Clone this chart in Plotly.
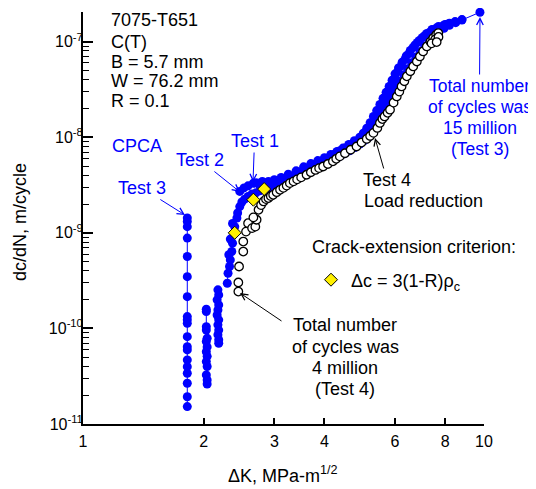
import plotly.graph_objects as go

# ---------------- data ----------------
# Test 3 threshold columns (CPCA)
t3a_dk = [1.82, 1.82, 1.82, 1.82, 1.82, 1.82, 1.82, 1.82, 1.82, 1.82, 1.82, 1.82, 1.82, 1.82, 1.82, 1.82, 1.82, 1.82, 1.82]
t3a_dadn = [1.43e-9, 1.31e-9, 1.16e-9, 8.8e-10, 5.65e-10, 3.48e-10, 2.15e-10, 1.33e-10, 1.23e-10, 1.13e-10,
            8.2e-11, 6.44e-11, 5.96e-11, 4.68e-11, 3.98e-11, 3.40e-11, 2.67e-11, 1.93e-11, 1.52e-11]
t3b_dk = [2.03, 2.03, 2.03, 2.03, 2.04, 2.03, 2.04, 2.03, 2.04, 2.03, 2.04, 2.03, 2.04, 2.04]
t3b_dadn = [1.59e-10, 1.50e-10, 1.04e-10, 9.6e-11, 7.9e-11, 7.3e-11, 6.4e-11, 5.7e-11, 5.1e-11, 4.5e-11,
            4.0e-11, 3.26e-11, 2.89e-11, 2.62e-11]
t3c_dk = [2.17, 2.18, 2.16, 2.18, 2.17, 2.16, 2.18, 2.17, 2.18, 2.17, 2.18, 2.18]
t3c_dadn = [2.53e-10, 2.24e-10, 1.99e-10, 1.76e-10, 1.56e-10, 1.38e-10, 1.23e-10, 1.09e-10, 9.6e-11, 8.6e-11,
            7.6e-11, 7.0e-11]
# Test 3 main curve
t3_dk = [2.29, 2.30, 2.32, 2.33, 2.31, 2.35, 2.36, 2.33, 2.38, 2.39, 2.36, 2.42, 2.43, 2.46, 2.49, 2.53,
         2.58, 2.64, 2.70, 2.76, 2.82, 2.88, 2.94, 3.00, 3.07, 3.14, 3.22, 3.30, 3.38, 3.47, 3.56, 3.66,
         3.76, 3.87, 3.98, 4.10, 4.22, 4.35, 4.48, 4.62, 4.76, 4.90, 5.03, 5.15, 5.25, 5.34, 5.43, 5.52,
         5.62, 5.72, 5.83, 5.94, 6.06, 6.18, 6.31, 6.45, 6.60, 6.76, 6.93, 7.11, 7.30, 7.50, 7.72, 7.95,
         8.20, 8.50, 8.81, 9.77]
t3_dadn = [2.97e-10, 3.78e-10, 4.44e-10, 5.21e-10, 5.9e-10, 6.37e-10, 7.8e-10, 8.6e-10, 9.9e-10, 1.16e-9,
           1.25e-9, 1.43e-9, 1.61e-9, 1.88e-9, 2.10e-9, 2.25e-9, 2.40e-9, 2.55e-9, 2.62e-9, 2.75e-9,
           2.85e-9, 2.92e-9, 3.0e-9, 3.1e-9, 3.2e-9, 3.35e-9, 3.45e-9, 3.6e-9, 3.75e-9, 3.9e-9, 4.1e-9,
           4.35e-9, 4.6e-9, 4.85e-9, 5.15e-9, 5.45e-9, 5.8e-9, 6.25e-9, 6.7e-9, 7.2e-9, 7.8e-9, 8.5e-9,
           9.2e-9, 1.0e-8, 1.1e-8, 1.22e-8, 1.38e-8, 1.58e-8, 1.8e-8, 2.1e-8, 2.45e-8, 2.85e-8, 3.3e-8,
           3.85e-8, 4.5e-8, 5.2e-8, 6.0e-8, 6.9e-8, 7.9e-8, 9.0e-8, 1.02e-7, 1.14e-7, 1.26e-7, 1.38e-7,
           1.48e-7, 1.58e-7, 1.68e-7, 2.03e-7]
# Test 1 (CPCA)
t1_dk = [2.66, 2.75, 2.85, 2.93, 3.00, 3.10, 3.20, 3.28, 3.38, 3.48, 3.58, 3.68, 3.80, 3.90, 4.00, 4.13,
         4.25, 4.37, 4.50, 4.63, 4.77, 4.91, 5.02, 5.14, 5.23, 5.32, 5.41, 5.50, 5.60, 5.69, 5.80, 5.90,
         6.00, 6.10, 6.22, 6.35, 6.50, 6.65, 6.82, 7.01, 7.20, 7.42, 7.70, 7.99, 8.20, 8.47, 8.81]
t1_dadn = [3.30e-9, 3.2e-9, 3.1e-9, 3.05e-9, 3.25e-9, 3.42e-9, 3.65e-9, 3.85e-9, 4.1e-9, 4.36e-9, 4.6e-9,
           4.91e-9, 5.2e-9, 5.53e-9, 5.85e-9, 6.25e-9, 6.7e-9, 7.2e-9, 7.7e-9, 8.3e-9, 8.9e-9, 9.6e-9,
           1.04e-8, 1.14e-8, 1.28e-8, 1.45e-8, 1.68e-8, 1.94e-8, 2.28e-8, 2.65e-8, 3.1e-8, 3.63e-8,
           4.2e-8, 4.85e-8, 5.6e-8, 6.5e-8, 7.5e-8, 8.65e-8, 9.8e-8, 1.10e-7, 1.22e-7, 1.34e-7, 1.44e-7,
           1.51e-7, 1.56e-7, 1.62e-7, 1.70e-7]
# Test 2 (CPCA)
t2_dk = [2.46, 2.52, 2.58, 2.70, 2.80, 2.90, 3.00, 3.12, 3.25, 3.40, 3.55, 3.70, 3.85, 4.00, 4.15, 4.30,
         4.45, 4.60, 4.75, 4.90, 5.00, 5.10, 5.20, 5.30, 5.40, 5.50, 5.60, 5.70, 5.80, 5.90, 6.00, 6.12,
         6.25, 6.40, 6.55, 6.72, 6.90, 7.10, 7.35, 7.60, 7.90, 8.10]
t2_dadn = [2.71e-9, 2.95e-9, 3.1e-9, 3.35e-9, 3.45e-9, 3.45e-9, 3.6e-9, 3.8e-9, 4.1e-9, 4.45e-9, 4.9e-9,
           5.3e-9, 5.7e-9, 6.1e-9, 6.6e-9, 7.1e-9, 7.7e-9, 8.4e-9, 9.2e-9, 1.0e-8, 1.1e-8, 1.24e-8,
           1.42e-8, 1.65e-8, 1.9e-8, 2.2e-8, 2.55e-8, 2.95e-8, 3.4e-8, 3.95e-8, 4.6e-8, 5.3e-8, 6.1e-8,
           7.1e-8, 8.1e-8, 9.2e-8, 1.03e-7, 1.15e-7, 1.27e-7, 1.38e-7, 1.46e-7, 1.52e-7]
# Test 4 (load reduction)
t4_dk = [2.44, 2.44, 2.45, 2.51, 2.51, 2.55, 2.58, 2.64, 2.69, 2.71, 2.66, 2.74, 2.78, 2.82, 2.86, 2.90,
         2.94, 2.98, 3.04, 3.10, 3.16, 3.22, 3.28, 3.35, 3.42, 3.50, 3.61, 3.70, 3.80, 3.88, 3.97, 4.08,
         4.20, 4.28, 4.37, 4.50, 4.65, 4.81, 4.95, 5.10, 5.20, 5.30, 5.42, 5.50, 5.58, 5.65, 5.75, 5.83,
         5.95, 6.06, 6.15, 6.23, 6.33, 6.42, 6.55, 6.66, 6.80, 6.92, 7.05, 7.20, 7.35, 7.47, 7.60, 7.69,
         7.55, 7.70, 7.40, 7.62]
t4_dadn = [2.43e-10, 3.02e-10, 4.44e-10, 6.37e-10, 8.1e-10, 1.03e-9, 1.26e-9, 1.12e-9, 1.16e-9, 1.37e-9,
           1.45e-9, 1.74e-9, 1.95e-9, 2.13e-9, 2.25e-9, 2.31e-9, 2.42e-9, 2.50e-9, 2.66e-9, 2.82e-9,
           2.95e-9, 3.12e-9, 3.31e-9, 3.45e-9, 3.62e-9, 3.80e-9, 4.05e-9, 4.30e-9, 4.55e-9, 4.75e-9,
           4.94e-9, 5.25e-9, 5.60e-9, 5.95e-9, 6.30e-9, 6.80e-9, 7.40e-9, 8.00e-9, 8.80e-9, 9.60e-9,
           1.03e-8, 1.11e-8, 1.25e-8, 1.41e-8, 1.55e-8, 1.65e-8, 1.80e-8, 1.94e-8, 2.30e-8, 2.67e-8,
           3.00e-8, 3.40e-8, 3.85e-8, 4.34e-8, 4.90e-8, 5.50e-8, 6.20e-8, 7.00e-8, 7.90e-8, 8.90e-8,
           1.00e-7, 1.09e-7, 1.18e-7, 1.23e-7, 1.05e-7, 1.12e-7, 9.6e-8, 9.9e-8]
# Crack-extension criterion points
crit_dk = [2.39, 2.66, 2.83]
crit_dadn = [1.0e-9, 2.22e-9, 2.87e-9]

x_tickvals = [1, 2, 3, 4, 6, 8, 10]
x_ticktext = ["1", "2", "3", "4", "6", "8", "10"]
y_tickvals = [1e-11, 1e-10, 1e-9, 1e-8, 1e-7]
y_ticktext = ["10<sup>-11</sup>", "10<sup>-10</sup>", "10<sup>-9</sup>", "10<sup>-8</sup>", "10<sup>-7</sup>"]
y_minor = [m * 10.0 ** e for e in range(-11, -6) for m in range(2, 10) if m * 10.0 ** e <= 2.01e-7]

BLUE = "#0000FF"
FONT = "Liberation Sans, Arial, sans-serif"
FS = 18

# ---------------- figure ----------------
OFF = 8  # page body margin
W, H = 536 - OFF, 489 - OFF
L, T = 83 - OFF, 12 - OFF
PW, PH = 401, 412
R, B = W - L - PW, H - T - PH


def px(xp, yp):
    """page pixel -> paper fraction"""
    return (xp - OFF - L) / PW, (T + PH - (yp - OFF)) / PH


fig = go.Figure()

blue_marker = dict(color=BLUE, size=9, line=dict(width=0))
for xs, ys in [(t3a_dk, t3a_dadn), (t3b_dk, t3b_dadn), (t3c_dk, t3c_dadn),
               (t2_dk, t2_dadn), (t1_dk, t1_dadn), (t3_dk, t3_dadn)]:
    fig.add_trace(go.Scatter(x=xs, y=ys, mode="lines+markers", marker=blue_marker,
                             line=dict(color=BLUE, width=1), showlegend=False, cliponaxis=False))

fig.add_trace(go.Scatter(x=t4_dk, y=t4_dadn, mode="markers",
                         marker=dict(color="white", size=8.5, line=dict(color="black", width=1.3)),
                         showlegend=False, cliponaxis=False))

fig.add_trace(go.Scatter(x=crit_dk, y=crit_dadn, mode="markers", name="\u0394c = 3(1-R)\u03c1<sub>c</sub>",
                         marker=dict(symbol="diamond", color="#FFF000", size=10,
                                     line=dict(color="black", width=1)),
                         showlegend=True, cliponaxis=False))

ann = []


def text(s, xp, yp, color="black", xanchor="center", size=FS, angle=0):
    x, y = px(xp, yp)
    ann.append(dict(text=s, x=x, y=y, xref="paper", yref="paper", xanchor=xanchor, yanchor="middle",
                    showarrow=False, font=dict(color=color, size=size, family=FONT), textangle=angle))


def label_arrow(s, center, tip, color, size=FS):
    """text centred at `center` with an arrow drawn from the text box to `tip` (page px)"""
    x, y = px(*tip)
    ann.append(dict(text=s, x=x, y=y, xref="paper", yref="paper",
                    ax=center[0] - tip[0], ay=center[1] - tip[1],
                    showarrow=True, arrowhead=5, arrowsize=1.3, arrowwidth=1, arrowcolor=color,
                    font=dict(color=color, size=size, family=FONT)))


def arrow(tip, tail, color):
    x, y = px(*tip)
    ann.append(dict(text="", x=x, y=y, xref="paper", yref="paper", ax=tail[0] - tip[0], ay=tail[1] - tip[1],
                    showarrow=True, arrowhead=5, arrowsize=1.3, arrowwidth=1, arrowcolor=color))


# top-left block
for s, yy in zip(["7075-T651", "C(T)", "B = 5.7 mm", "W = 76.2 mm", "R = 0.1"], [20, 41.5, 61.5, 81.5, 101.5]):
    text(s, 109, yy, xanchor="left")

text("CPCA", 137, 146, BLUE)
label_arrow("Test 3", (142, 188), (185, 215), BLUE)
label_arrow("Test 2", (200, 160), (240, 192), BLUE)
label_arrow("Test 1", (254.5, 141), (253, 182), BLUE)

label_arrow("Total number", (479.5, 86), (480, 17), BLUE, size=17.5)
for s, yy in zip(["of cycles was", "15 million", "(Test 3)"], [107.3, 128.3, 149.3]):
    text(s, 479.5, yy, BLUE, size=17.5)

label_arrow("Test 4", (387, 180), (375, 138), "black")
text("Load reduction", 362, 201.5, xanchor="left")

text("Crack-extension criterion:", 310, 246.7, xanchor="left")

for s, yy in zip(["Total number", "of cycles was", "4 million", "(Test 4)"], [325, 346.7, 368, 388.5]):
    text(s, 345, yy)
arrow((240, 293), (283, 322), "black")

# axis titles
text("\u0394K, MPa-m<sup>1/2</sup>", 283, 474)
text("dc/dN, m/cycle", 20, 222, angle=-90)

lx, ly = px(311, 280)
fig.update_layout(
    width=W, height=H, margin=dict(l=L, r=R, t=T, b=B),
    paper_bgcolor="white", plot_bgcolor="white",
    font=dict(family=FONT, size=16, color="black"),
    annotations=ann,
    legend=dict(x=lx, y=ly, xanchor="left", yanchor="middle", bgcolor="rgba(0,0,0,0)",
                font=dict(size=FS, family=FONT, color="black"), borderwidth=0),
    xaxis=dict(type="log", range=[0, 1], tickmode="array", tickvals=x_tickvals, ticktext=x_ticktext,
               ticks="inside", ticklen=6, tickwidth=1.5, tickcolor="black", ticklabelstandoff=2,
               showline=True, linewidth=2, linecolor="black", mirror=False,
               showgrid=False, zeroline=False, tickfont=dict(size=16, family=FONT, color="black")),
    yaxis=dict(type="log", range=[-11, -6.69], tickmode="array", tickvals=y_tickvals, ticktext=y_ticktext,
               ticks="inside", ticklen=10, tickwidth=1.5, tickcolor="black", ticklabelstandoff=-5,
               minor=dict(tickmode="array", tickvals=y_minor, ticks="inside", ticklen=6, tickwidth=1,
                          tickcolor="black", showgrid=False),
               showline=True, linewidth=2, linecolor="black", mirror=False,
               showgrid=False, zeroline=False, tickfont=dict(size=16, family=FONT, color="black")),
)

fig.write_html("out.html")
